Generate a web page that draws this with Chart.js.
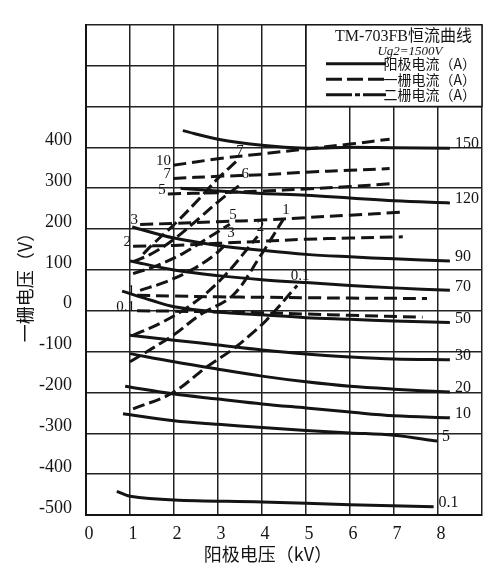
<!DOCTYPE html>
<html>
<head>
<meta charset="utf-8">
<script src="https://cdn.jsdelivr.net/npm/chart.js@4.4.1/dist/chart.umd.min.js"></script>
<style>
  html, body { margin: 0; padding: 0; background: #fff; }
</style>
</head>
<body>
<canvas id="cc" width="502" height="570"></canvas>
<script>
// anode current curves (A) : [anode kV, grid-1 V]
const ia150 = [[2.2, 441], [3, 420], [4, 405], [5, 398], [6, 400], [7, 399], [8.27, 398]];
const ia120 = [[2.15, 300], [3, 293], [4, 287], [5, 283], [6, 276], [7, 269], [8.27, 264]];
const ia90 = [[1.05, 205], [2, 178], [3, 160], [4, 148], [5, 138], [6, 132], [7, 127], [8.27, 122]];
const ia70 = [[1.0, 122], [2, 100], [3, 86], [4, 76], [5, 69], [6, 62], [7, 56], [8.27, 50]];
const ia50 = [[0.82, 48], [1.5, 25], [2, 10], [3, -3], [4, -10], [5, -17], [6, -21], [7, -25], [8.27, -29]];
const ia30 = [[1.0, -60], [2, -72], [3, -84], [4, -96], [5, -106], [6, -113], [7, -118], [8.27, -120]];
const ia20 = [[1.0, -105], [2, -125], [3, -143], [4, -160], [5, -174], [6, -185], [7, -192], [8.27, -199]];
const ia10 = [[0.89, -185], [2, -204], [3, -216], [4, -228], [5, -238], [6, -248], [7, -257], [8.27, -262]];
const ia5 = [[0.84, -252], [2, -269], [3, -278], [4, -286], [5, -293], [6, -299], [7, -305], [7.98, -319]];
const ia01 = [[0.7, -442], [1, -454], [2, -463], [4, -468], [6, -475], [7.9, -480]];
const anodeNames = ["150", "120", "90", "70", "50", "30", "20", "10", "5", "0.1"];
const anodeCurves = [ia150, ia120, ia90, ia70, ia50, ia30, ia20, ia10, ia5, ia01];

// grid-1 current curves (A)
const g1_10 = [[1.98, 356], [3, 372], [4, 384], [5, 396], [6, 408], [6.9, 420]];
const g1_7 = [[1.98, 324], [3, 329], [4, 333], [5, 339], [6, 344], [6.9, 348]];
const g1_5 = [[1.86, 286], [3, 289], [4, 293], [5, 298], [6, 304], [6.9, 311]];
const g1_3 = [[1.23, 211], [2, 214], [3, 218], [4, 222], [5, 228], [6, 234], [7.14, 241]];
const g1_2 = [[1.07, 158], [2, 160], [3, 165], [4, 170], [5, 175], [6, 178], [7.2, 181]];
const g1_1 = [[1.16, 38], [2, 36], [3, 34], [4, 33], [5, 32], [6, 31], [7.75, 30]];
const g1_01 = [[1.16, 0], [2, -1], [3, -3], [4, -5], [5, -8], [6, -11], [7.65, -16]];
const grid1Names = ["10", "7", "5", "3", "2", "1", "0.1"];
const grid1Curves = [g1_10, g1_7, g1_5, g1_3, g1_2, g1_1, g1_01];

// grid-2 current curves (A)
const g2_7 = [[1.3, 139], [1.52, 163], [2.07, 218], [2.59, 276], [3.0, 324], [3.43, 367]];
const g2_6 = [[1.07, 120], [1.5, 140], [2.0, 175], [2.59, 228], [3.05, 271], [3.55, 312]];
const g2_5 = [[1.07, 91], [1.6, 110], [2.2, 140], [2.8, 180], [3.27, 212]];
const g2_3 = [[1.23, 50], [1.8, 70], [2.4, 100], [2.9, 135], [3.23, 168]];
const g2_2 = [[1.07, -60], [1.7, -30], [2.4, 15], [3.1, 80], [3.9, 182]];
const g2_1 = [[1.0, -125], [1.98, -60], [2.59, -10], [3.34, 38], [3.95, 132], [4.48, 223]];
const g2_01 = [[1.07, -240], [1.95, -202], [2.75, -137], [3.34, -94], [3.8, -53], [4.11, -22], [4.8, 62]];
const grid2Names = ["7", "6", "5", "3", "2", "1", "0.1"];
const grid2Curves = [g2_7, g2_6, g2_5, g2_3, g2_2, g2_1, g2_01];

const xTicks = [0, 1, 2, 3, 4, 5, 6, 7, 8];
const yTicks = [-500, -400, -300, -200, -100, 0, 100, 200, 300, 400];

const serif = "'Liberation Serif', 'DejaVu Serif', 'Noto Sans CJK SC', serif";
const ink = "#141414";

function toPts(arr) {
    return arr.map((p) => ({ x: p[0], y: p[1] }));
}

const datasets = [];
anodeCurves.forEach((c, i) => {
    datasets.push({ data: toPts(c), family: "anode", curveLabel: anodeNames[i], borderDash: [] });
});
grid1Curves.forEach((c, i) => {
    datasets.push({ data: toPts(c), family: "g1", curveLabel: grid1Names[i], borderDash: [13, 6] });
});
grid2Curves.forEach((c, i) => {
    datasets.push({ data: toPts(c), family: "g2", curveLabel: grid2Names[i], borderDash: [12, 5] });
});
datasets.forEach((d) => {
    d.showLine = true;
    d.borderColor = ink;
    d.borderWidth = 3;
    d.pointRadius = 0;
    d.tension = 0.35;
    d.fill = false;
});

// curve labels, legend box and axis titles
const decorations = {
    id: "decorations",
    afterDatasetsDraw(chart) {
        const ctx = chart.ctx;
        const xs = chart.scales.x;
        const ys = chart.scales.y;
        ctx.save();
        ctx.fillStyle = ink;

        chart.data.datasets.forEach((ds, i) => {
            const pts = chart.getDatasetMeta(i).data;
            const first = pts[0];
            const last = pts[pts.length - 1];
            if (ds.family === "anode") {
                ctx.font = "16px " + serif;
                ctx.textAlign = "left";
                ctx.textBaseline = "middle";
                ctx.fillText(ds.curveLabel, last.x + 5, last.y - 4);
            } else if (ds.family === "g1") {
                ctx.font = "15px " + serif;
                ctx.textAlign = "right";
                ctx.textBaseline = "middle";
                ctx.fillText(ds.curveLabel, first.x - 2, first.y - 4);
            } else {
                ctx.font = "15px " + serif;
                ctx.textAlign = "center";
                ctx.textBaseline = "bottom";
                ctx.fillText(ds.curveLabel, last.x + 3, last.y - 2);
            }
        });

        // legend box in the upper right cell block
        const bx = xs.getPixelForValue(5);
        const bx2 = xs.getPixelForValue(9);
        const by = ys.getPixelForValue(700);
        const by2 = ys.getPixelForValue(500);
        ctx.fillStyle = "#fff";
        ctx.fillRect(bx, by, bx2 - bx, by2 - by);
        ctx.strokeStyle = ink;
        ctx.lineWidth = 1.5;
        ctx.strokeRect(bx, by, bx2 - bx, by2 - by);

        ctx.fillStyle = ink;
        ctx.textBaseline = "middle";
        ctx.textAlign = "right";
        ctx.font = "16px " + serif;
        ctx.fillText("TM-703FB恒流曲线", bx2 - 10, by + 12);
        ctx.textAlign = "center";
        ctx.font = "italic 13px " + serif;
        ctx.fillText("Ug2=1500V", bx + 104, by + 27);

        const rows = [
            { text: "阳极电流（A）", dash: [] },
            { text: "一栅电流（A）", dash: [16, 5] },
            { text: "二栅电流（A）", dash: [26, 3, 5, 3] }
        ];
        rows.forEach((r, k) => {
            const ry = by + 39 + k * 15.5;
            ctx.beginPath();
            ctx.setLineDash(r.dash);
            ctx.lineWidth = 3;
            ctx.moveTo(bx + 20, ry);
            ctx.lineTo(bx + 80, ry);
            ctx.stroke();
            ctx.setLineDash([]);
            ctx.textAlign = "right";
            ctx.font = "14px 'Noto Sans CJK SC', " + serif;
            ctx.fillText(r.text, bx2 - 6, ry);
        });

        // axis titles
        ctx.font = "18px 'Noto Sans CJK SC', sans-serif";
        ctx.textAlign = "center";
        ctx.textBaseline = "middle";
        ctx.fillText("阳极电压（kV）", 268, 554);
        ctx.translate(25, 283);
        ctx.rotate(-Math.PI / 2);
        ctx.fillText("一栅电压（V）", 0, 0);
        ctx.restore();
    }
};

new Chart(document.getElementById("cc").getContext("2d"), {
    type: "scatter",
    data: { datasets: datasets },
    options: {
        responsive: false,
        animation: false,
        events: [],
        layout: { padding: { top: 15, right: 20, left: 0, bottom: 0 } },
        plugins: { legend: { display: false }, tooltip: { enabled: false } },
        scales: {
            x: {
                type: "linear",
                min: 0,
                max: 9,
                afterFit: (s) => { s.height = 55; },
                afterBuildTicks: (s) => { s.ticks = [...xTicks, 9].map((v) => ({ value: v })); },
                ticks: {
                    callback: (v) => (xTicks.includes(v) ? String(v) : ""),
                    font: { family: serif, size: 18 },
                    color: ink,
                    padding: 8,
                    labelOffset: 3,
                    maxRotation: 0
                },
                grid: { color: "#222", lineWidth: 1.5, drawTicks: false },
                border: { color: ink, width: 2 }
            },
            y: {
                type: "linear",
                min: -500,
                max: 700,
                afterFit: (s) => { s.width = 86; },
                afterBuildTicks: (s) => { s.ticks = [...yTicks, 500, 600, 700].map((v) => ({ value: v })); },
                ticks: {
                    callback: (v) => (yTicks.includes(v) ? String(v) : ""),
                    font: { family: serif, size: 18 },
                    color: ink,
                    padding: 14,
                    labelOffset: -7
                },
                grid: { color: "#222", lineWidth: 1.5, drawTicks: false },
                border: { color: ink, width: 2 }
            }
        }
    },
    plugins: [decorations]
});
</script>
</body>
</html>
